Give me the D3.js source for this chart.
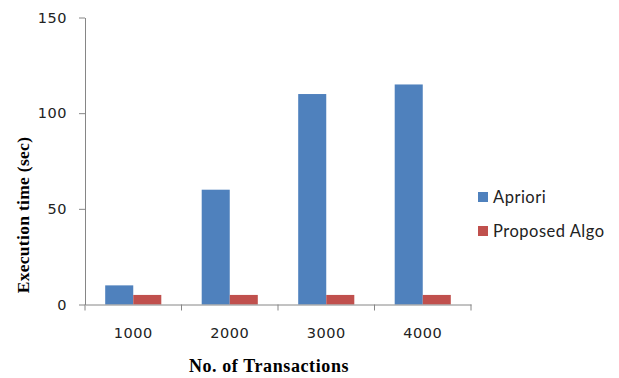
<!DOCTYPE html>
<html>
<head>
<meta charset="utf-8">
<script src="https://cdn.jsdelivr.net/npm/d3@7"></script>
<style>
  html, body { margin: 0; padding: 0; background: #fff; }
  svg { display: block; }
</style>
</head>
<body>
<svg id="chart" width="619" height="378"></svg>
<script>
// Execution time per transaction count
const categories = ["1000", "2000", "3000", "4000"];
const seriesNames = ["Apriori", "Proposed Algo"];
const apriori = [10, 60, 110, 115];
const proposed = [5, 5, 5, 5];
const yTicks = [0, 50, 100, 150];
const colors = ["#4F81BD", "#C0504D"];

const svg = d3.select("#chart");
const plotLeft = 85, plotRight = 471, plotTop = 17.5, plotBottom = 304.5;

const x = d3.scaleBand().domain(categories).range([plotLeft, plotRight]).paddingInner(0).paddingOuter(0);
const x1 = d3.scaleBand().domain(seriesNames).range([0, x.bandwidth()]).paddingOuter(0.72).paddingInner(0);
const y = d3.scaleLinear().domain([0, 150]).range([plotBottom, plotTop]);

const table = categories.map((c, i) => ({ cat: c, values: [apriori[i], proposed[i]] }));

// bars
const groups = svg.append("g").selectAll("g").data(table).join("g")
  .attr("transform", d => `translate(${x(d.cat)},0)`);
groups.selectAll("rect").data(d => d.values.map((v, j) => ({ name: seriesNames[j], v, j })))
  .join("rect")
  .attr("x", d => x1(d.name))
  .attr("width", x1.bandwidth())
  .attr("y", d => y(d.v))
  .attr("height", d => y(0) - y(d.v))
  .attr("fill", d => colors[d.j]);

// y axis
const yAxis = svg.append("g").attr("transform", `translate(${plotLeft},0)`)
  .call(d3.axisLeft(y).tickValues(yTicks).tickSize(6).tickPadding(12).tickSizeOuter(0));
yAxis.select(".domain").attr("stroke", "#868686");
yAxis.selectAll(".tick line").attr("stroke", "#868686");
yAxis.selectAll(".tick text")
  .attr("font-family", "DejaVu Sans, Verdana, sans-serif")
  .attr("font-size", 14.5).attr("fill", "#222").attr("letter-spacing", "0.5px");

// x axis
const xAxis = svg.append("g").attr("transform", `translate(0,${plotBottom})`)
  .call(d3.axisBottom(x).tickSize(0).tickPadding(23));
xAxis.select(".domain").attr("stroke", "#868686");
xAxis.selectAll(".tick text")
  .attr("font-family", "DejaVu Sans, Verdana, sans-serif")
  .attr("font-size", 14.5).attr("fill", "#222").attr("letter-spacing", "0.5px");
// category separators
const seps = categories.map(c => x(c)).concat([plotRight]);
xAxis.selectAll(".sep").data(seps).join("line").attr("class", "sep")
  .attr("x1", d => d).attr("x2", d => d).attr("y1", 0).attr("y2", 6)
  .attr("stroke", "#868686");

// axis titles
svg.append("text")
  .attr("transform", `translate(28.5,215) rotate(-90)`)
  .attr("text-anchor", "middle")
  .attr("font-family", "Liberation Serif, Times New Roman, serif")
  .attr("font-weight", "bold").attr("font-size", 17.5).attr("fill", "#000")
  .attr("letter-spacing", "0.3px")
  .text("Execution time (sec)");
svg.append("text")
  .attr("x", 269).attr("y", 372)
  .attr("text-anchor", "middle")
  .attr("font-family", "Liberation Serif, Times New Roman, serif")
  .attr("font-weight", "bold").attr("font-size", 18).attr("fill", "#000")
  .attr("letter-spacing", "0.6px")
  .text("No. of Transactions");

// legend
const legend = svg.append("g").selectAll("g").data(seriesNames).join("g")
  .attr("transform", (d, i) => `translate(478,${192 + i * 34})`);
legend.append("rect").attr("width", 10).attr("height", 10).attr("fill", (d, i) => colors[i]);
legend.append("text").attr("x", 15).attr("y", 10.5)
  .attr("font-family", "Lato, Carlito, sans-serif").attr("font-size", 16.5).attr("fill", "#222")
  .attr("letter-spacing", "0.5px")
  .text(d => d);
</script>
</body>
</html>
